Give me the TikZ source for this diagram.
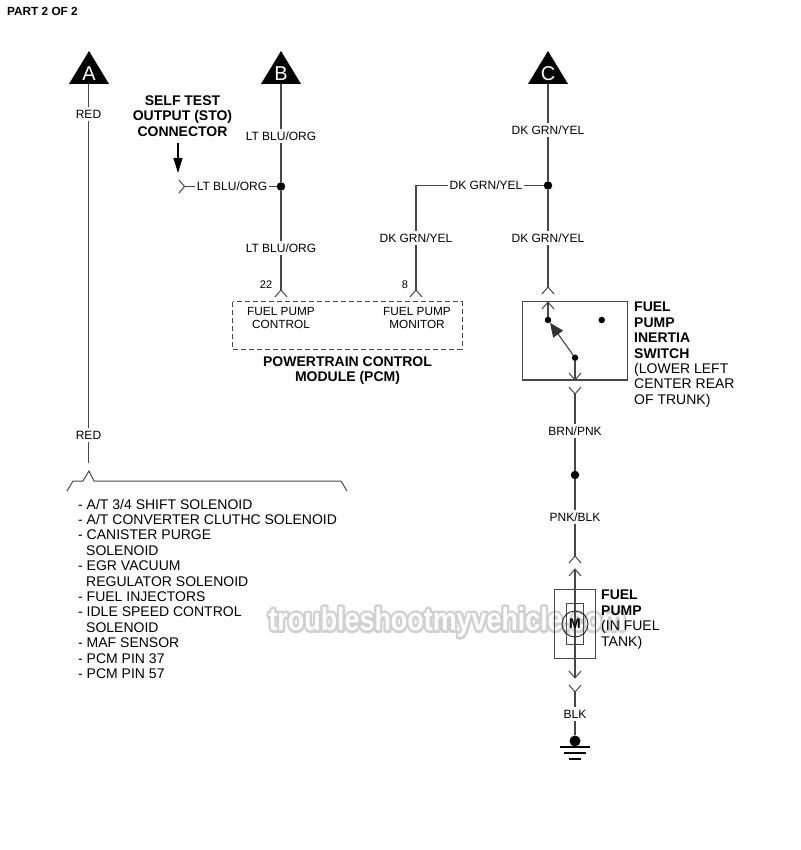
\documentclass[tikz,border=0pt]{standalone}
\usepackage{fontspec}
\setmainfont{Liberation Sans}
\usetikzlibrary{arrows.meta}
\tikzset{
  wire/.style={draw=black!72,line width=1.1pt},
  lab/.style={font=\fontsize{12}{14}\selectfont,text height=8.6pt,text depth=0pt,inner xsep=1.5pt,inner ysep=2.6pt},
  small/.style={font=\fontsize{11.8}{14}\selectfont,text height=8.5pt,text depth=0pt,inner sep=0pt},
  pin/.style={font=\fontsize{11}{14}\selectfont,text height=8pt,text depth=0pt,inner sep=0pt},
  hdr/.style={font=\fontsize{14}{15.4}\selectfont\bfseries,align=center,inner sep=0pt,anchor=north},
  side/.style={font=\fontsize{14}{15.4}\selectfont,align=left,inner sep=0pt,anchor=north west},
  dot/.style={circle,fill=black,inner sep=0pt,minimum size=#1},
  tri/.style={fill=black},
  tletter/.style={text=white,font=\fontsize{20}{22}\selectfont,text height=14.3pt,text depth=0pt,inner sep=0pt},
  chevup/.pic={\draw[wire,line width=1pt] (-6,7) -- (0,0) -- (6,7);},
  chevdown/.pic={\draw[wire,line width=1pt] (-6,-7) -- (0,0) -- (6,-7);},
  wmark/.style={inner sep=0pt,xscale=.84,transform shape,font=\fontsize{32}{34}\selectfont\bfseries},
}
\begin{document}
\begin{tikzpicture}[x=1pt,y=-1pt]
\useasboundingbox (0,0) rectangle (800,850);
% watermark: grey outline layer, white body layer
\node[wmark] (wmo) at (447,622)
  {\special{pdf:code q 1 Tr 5.4 w 1 j 0.82 0.82 0.82 RG}troubleshootmyvehicle.com\special{pdf:code Q}};
\node[wmark,text=white] (wm) at (447,622) {troubleshootmyvehicle.com};
% title
\node[anchor=west,inner sep=0pt,font=\fontsize{11.8}{14}\selectfont\bfseries,text height=8.6pt,text depth=0pt] (title) at (7,11) {PART 2 OF 2};
% connector triangles
\fill[tri] (89,51) -- (109,84) -- (69,84) -- cycle;
\fill[tri] (281,51) -- (301,84) -- (261,84) -- cycle;
\fill[tri] (548,51) -- (568,84) -- (528,84) -- cycle;
\node[tletter] (la) at (89,73) {A};
\node[tletter] (lb) at (281,73) {B};
\node[tletter] (lc) at (548,73) {C};
\coordinate (ta) at (88.5,84);
\coordinate (tb) at (281,84);
\coordinate (tc) at (548,84);
% wire A
\node[lab] (redA) at (88.5,114) {RED};
\node[lab] (redB) at (88.5,435) {RED};
\coordinate (aend) at (88.5,463);
\draw[wire] (ta) -- (redA);
\draw[wire] (redA) -- (redB);
\draw[wire] (redB) -- (aend);
\coordinate (br1) at (67,491);
\coordinate (br2) at (73,481);
\coordinate (br3) at (83,481);
\coordinate (br4) at (89,471);
\coordinate (br5) at (94,481);
\coordinate (br6) at (341,481);
\coordinate (br7) at (347,491);
\draw[wire,line width=1pt] (br1) -- (br2) -- (br3) -- (br4) -- (br5) -- (br6) -- (br7);
\node[side,anchor=north west] (list) at (78,498.8) {- A/T 3/4 SHIFT SOLENOID\\- A/T CONVERTER CLUTHC SOLENOID\\- CANISTER PURGE\\\hspace*{8pt}SOLENOID\\- EGR VACUUM\\\hspace*{8pt}REGULATOR SOLENOID\\- FUEL INJECTORS\\- IDLE SPEED CONTROL\\\hspace*{8pt}SOLENOID\\- MAF SENSOR\\- PCM PIN 37\\- PCM PIN 57};
% wire B
\node[lab] (b1) at (281,136) {LT BLU/ORG};
\node[dot=8.5pt] (jb) at (281,186.5) {};
\node[lab] (b2) at (232,186.5) {LT BLU/ORG};
\node[lab] (b3) at (281,248) {LT BLU/ORG};
\coordinate (p22) at (281,290);
\draw[wire] (tb) -- (b1);
\draw[wire] (b1) -- (jb);
\draw[wire] (jb) -- (b2);
\draw[wire] (jb) -- (b3);
\draw[wire] (b3) -- (p22);
\pic at (p22) {chevup};
\coordinate (sto) at (184.5,186.5);
\coordinate (sto1) at (179,180);
\coordinate (sto2) at (179,193);
\draw[wire] (b2) -- (sto);
\draw[wire,line width=1pt] (sto1) -- (sto) -- (sto2);
\node[hdr] (stotxt) at (182.5,95.5) {SELF TEST\\OUTPUT (STO)\\CONNECTOR};
\coordinate (staS) at (178,143);
\coordinate (staE) at (178,173);
\draw[black,line width=1.1pt,-{Triangle[length=15pt,width=9pt]}] (staS) -- (staE);
% wire C
\node[lab] (c1) at (548,130) {DK GRN/YEL};
\node[dot=8.5pt] (jc) at (548,185.5) {};
\node[lab] (c2) at (486,185.5) {DK GRN/YEL};
\node[lab] (c3) at (548,238) {DK GRN/YEL};
\node[lab] (c4) at (416,238) {DK GRN/YEL};
\coordinate (corner) at (416,185.5);
\coordinate (p8) at (416,290);
\coordinate (sw) at (548,287);
\draw[wire] (tc) -- (c1);
\draw[wire] (c1) -- (jc);
\draw[wire] (jc) -- (c2);
\draw[wire] (c2) -- (corner) -- (c4);
\draw[wire] (c4) -- (p8);
\draw[wire] (jc) -- (c3);
\draw[wire] (c3) -- (sw);
\pic at (sw) {chevup};
\pic at (p8) {chevup};
% PCM
\draw[draw=black!72,line width=1pt,dash pattern=on 5pt off 3pt] (232.7,301.7) rectangle (462,349);
\node[small] (fp1) at (281,311) {FUEL PUMP};
\node[small] (fp2) at (281,324) {CONTROL};
\node[small] (fp3) at (417,311) {FUEL PUMP};
\node[small] (fp4) at (417,324) {MONITOR};
\node[pin] (n22) at (266,284) {22};
\node[pin] (n8) at (405,284) {8};
\node[hdr] (pcm) at (347.5,356.3) {POWERTRAIN CONTROL\\MODULE (PCM)};
% inertia switch
\node[draw=black!72,line width=1.1pt,inner sep=0pt,minimum width=105pt,minimum height=78.3pt] (swbox) at (575,340.85) {};
\coordinate (swtop) at (548,302);
\coordinate (swbot) at (575,380);
\node[dot=6.5pt] (d1) at (548,320) {};
\node[dot=6.5pt] (d2) at (601.7,320) {};
\node[dot=6.5pt] (d3) at (575,357.7) {};
\pic at (swtop) {chevup};
\pic at (swbot) {chevdown};
\draw[wire] (swtop) -- (d1);
\draw[wire] (d3) -- (swbot);
\draw[black!80,line width=1pt,-{Triangle[length=14pt,width=12pt]}] (d3) -- (d1);
\node[side] (swt) at (634,302) {\textbf{FUEL}\\\textbf{PUMP}\\\textbf{INERTIA}\\\textbf{SWITCH}\\(LOWER LEFT\\CENTER REAR\\OF TRUNK)};
% lower wire
\coordinate (y1) at (575,394);
\pic at (y1) {chevdown};
\node[lab] (l1) at (575,431) {BRN/PNK};
\node[dot=8.5pt] (jl) at (575,475) {};
\node[lab] (l2) at (575,517) {PNK/BLK};
\coordinate (u1) at (575,556);
\draw[wire] (y1) -- (l1);
\draw[wire] (l1) -- (jl);
\draw[wire] (jl) -- (l2);
\draw[wire] (l2) -- (u1);
\pic at (u1) {chevup};
% pump
\coordinate (u2) at (575,569);
\coordinate (d4) at (575,678);
\pic at (u2) {chevup};
\pic at (d4) {chevdown};
\draw[wire] (u2) -- (d4);
\draw[draw=black!72,line width=1pt] (554.3,589) rectangle (595.7,658);
\draw[draw=black!72,line width=1pt] (566.7,603) rectangle (583.3,644);
\node[circle,draw=black!80,line width=1pt,inner sep=0pt,minimum size=26pt] (motor) at (575,624) {};
\node[inner sep=0pt,font=\fontsize{14}{14}\selectfont\bfseries] (mm) at (575,624) {M};
\node[side] (pt) at (601,590) {\textbf{FUEL}\\\textbf{PUMP}\\(IN FUEL\\TANK)};
% ground
\coordinate (y2) at (575,692);
\pic at (y2) {chevdown};
\node[lab] (blk) at (575,714) {BLK};
\node[dot=11pt] (gd) at (575,741) {};
\draw[wire] (y2) -- (blk);
\draw[wire] (blk) -- (gd);
\draw[black,line width=1.8pt] (560,747) -- (590,747);
\draw[black,line width=1.8pt] (564,753) -- (586,753);
\draw[black,line width=1.8pt] (569,759) -- (581,759);
\end{tikzpicture}
\end{document}
